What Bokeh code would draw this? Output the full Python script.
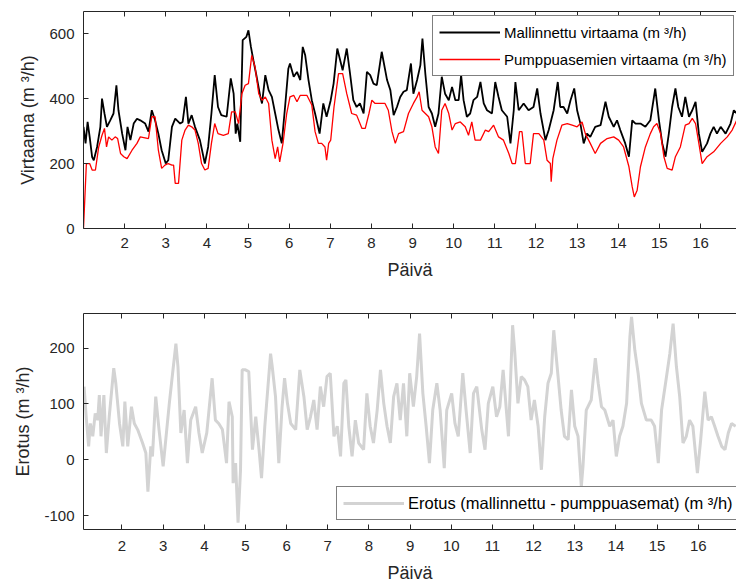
from bokeh.plotting import figure
from bokeh.layouts import column
from bokeh.models import Range1d, LinearAxis, FixedTicker, Legend, LegendItem
from bokeh.embed import file_html
from bokeh.resources import INLINE

# ---------------- data ----------------
day_ticks = [2, 3, 4, 5, 6, 7, 8, 9, 10, 11, 12, 13, 14, 15, 16]
flow_ticks = [0, 200, 400, 600]
diff_ticks = [-100, 0, 100, 200]

model_day = [1.00,1.05,1.10,1.15,1.21,1.25,1.33,1.41,1.45,1.51,
             1.57,1.65,1.73,1.80,1.85,1.94,2.02,2.07,2.14,2.22,
             2.30,2.38,2.50,2.58,2.66,2.74,2.82,2.90,3.00,3.06,
             3.15,3.23,3.35,3.41,3.49,3.55,3.63,3.71,3.83,3.95,
             4.03,4.11,4.19,4.27,4.35,4.48,4.58,4.65,4.70,4.74,
             4.81,4.87,4.96,5.01,5.07,5.13,5.21,5.30,5.34,5.42,
             5.50,5.58,5.66,5.74,5.82,5.90,5.98,6.02,6.11,6.19,
             6.27,6.33,6.39,6.47,6.55,6.63,6.74,6.83,6.91,7.01,
             7.08,7.17,7.24,7.30,7.40,7.48,7.56,7.64,7.72,7.81,
             7.89,7.97,8.05,8.13,8.25,8.38,8.46,8.54,8.62,8.70,
             8.78,8.86,8.96,9.02,9.11,9.19,9.24,9.31,9.39,9.47,
             9.55,9.63,9.71,9.79,9.88,9.96,10.04,10.12,10.18,10.24,
             10.32,10.40,10.48,10.57,10.65,10.73,10.81,10.93,11.01,11.09,
             11.17,11.30,11.38,11.46,11.50,11.58,11.70,11.82,11.94,12.03,
             12.11,12.23,12.31,12.43,12.53,12.59,12.67,12.76,12.84,12.93,
             13.00,13.08,13.16,13.24,13.32,13.44,13.57,13.69,13.77,13.89,
             13.97,14.05,14.17,14.26,14.34,14.42,14.54,14.66,14.78,14.90,
             14.99,15.07,15.15,15.23,15.31,15.39,15.46,15.55,15.63,15.72,
             15.80,15.88,15.96,16.04,16.16,16.24,16.32,16.40,16.49,16.61,
             16.73,16.81,16.88]
model_flow = [313,262,328,282,220,210,251,313,400,354,
              313,333,354,441,364,292,241,313,272,323,
              338,333,323,298,364,333,292,241,200,210,
              313,338,323,328,405,323,349,313,272,200,
              251,354,472,374,349,344,462,415,292,323,
              267,580,590,610,559,518,467,405,385,472,
              426,405,354,303,262,374,492,508,467,482,
              457,559,533,457,395,354,292,385,344,395,
              446,554,518,487,554,477,395,374,385,354,
              482,472,446,441,544,457,426,349,374,405,
              421,426,508,415,457,503,585,477,374,354,
              313,354,467,415,395,436,395,395,472,395,
              344,354,395,405,451,385,364,354,451,405,
              364,344,262,364,451,364,385,364,374,431,
              354,272,303,364,451,374,374,354,395,431,
              364,323,262,292,282,313,318,390,344,313,
              333,303,262,221,333,323,323,313,333,431,
              333,262,221,292,374,431,374,344,405,344,
              364,390,292,236,262,292,313,292,313,292,
              323,364,354]

pump_day = [1.00,1.07,1.15,1.21,1.29,1.37,1.45,1.51,1.56,1.61,
            1.69,1.77,1.83,1.90,1.98,2.06,2.18,2.30,2.38,2.58,
            2.66,2.74,2.82,2.90,2.98,3.06,3.15,3.19,3.23,3.31,
            3.39,3.47,3.55,3.63,3.71,3.79,3.87,3.95,4.03,4.11,
            4.19,4.27,4.40,4.52,4.60,4.69,4.77,4.85,4.93,5.01,
            5.09,5.17,5.26,5.34,5.42,5.50,5.58,5.66,5.72,5.77,
            5.85,5.94,6.02,6.11,6.19,6.27,6.43,6.55,6.63,6.71,
            6.79,6.87,6.91,6.96,7.01,7.09,7.20,7.30,7.40,7.52,
            7.64,7.77,7.85,7.94,8.01,8.09,8.33,8.41,8.50,8.58,
            8.66,8.78,8.90,9.02,9.11,9.16,9.23,9.31,9.39,9.47,
            9.55,9.63,9.71,9.79,9.88,9.96,10.04,10.16,10.28,10.36,
            10.44,10.52,10.65,10.77,10.85,10.97,11.09,11.21,11.34,11.42,
            11.50,11.60,11.66,11.74,11.86,11.94,12.07,12.19,12.27,12.35,
            12.37,12.41,12.51,12.63,12.76,12.88,13.00,13.12,13.20,13.32,
            13.44,13.57,13.73,13.89,14.01,14.13,14.26,14.34,14.39,14.46,
            14.54,14.66,14.78,14.86,14.94,15.03,15.11,15.19,15.31,15.39,
            15.51,15.63,15.72,15.80,15.88,15.96,16.04,16.16,16.32,16.49,
            16.65,16.77,16.88]
pump_flow = [0,200,200,180,180,251,287,308,251,282,
             272,282,277,231,221,215,241,262,282,277,
             344,344,241,185,195,200,195,195,139,139,
             272,303,318,313,303,262,200,180,185,262,
             323,292,287,292,359,359,323,415,441,446,
             533,497,415,395,405,385,272,215,251,205,
             262,354,405,410,390,410,410,380,298,262,
             262,251,210,262,272,374,477,477,415,354,
             349,308,308,354,395,385,385,364,298,262,
             292,298,354,385,405,421,364,354,344,313,
             251,231,364,385,354,303,323,328,313,287,
             328,272,272,303,298,318,282,272,231,200,
             200,298,298,200,200,292,292,272,210,200,
             144,215,272,318,323,318,313,328,292,262,
             231,262,277,282,272,251,190,128,97,118,
             190,251,292,313,323,292,221,185,180,221,
             251,318,323,339,323,262,200,221,236,262,
             282,303,333]

diff_day = [1.08,1.13,1.19,1.23,1.29,1.35,1.41,1.45,1.49,1.56,
            1.62,1.69,1.80,1.85,1.94,2.02,2.07,2.14,2.23,2.30,
            2.38,2.50,2.58,2.63,2.70,2.74,2.82,2.90,3.00,3.08,
            3.15,3.23,3.31,3.36,3.43,3.51,3.59,3.67,3.79,3.87,
            3.95,4.06,4.19,4.27,4.35,4.44,4.54,4.60,4.68,4.70,
            4.76,4.82,4.88,4.92,5.00,5.08,5.17,5.25,5.33,5.39,
            5.47,5.61,5.65,5.73,5.81,5.89,5.95,6.02,6.10,6.22,
            6.32,6.42,6.50,6.58,6.66,6.74,6.82,6.90,6.98,7.06,
            7.15,7.23,7.31,7.39,7.44,7.51,7.59,7.67,7.75,7.87,
            7.95,8.03,8.11,8.20,8.28,8.36,8.44,8.52,8.60,8.68,
            8.76,8.84,8.92,8.99,9.08,9.16,9.23,9.31,9.39,9.47,
            9.55,9.65,9.73,9.83,9.89,10.01,10.09,10.17,10.28,10.36,
            10.46,10.54,10.62,10.74,10.82,10.90,11.01,11.10,11.18,11.26,
            11.39,11.49,11.54,11.62,11.70,11.78,11.86,11.94,12.02,12.11,
            12.19,12.27,12.35,12.43,12.49,12.58,12.67,12.75,12.84,12.92,
            13.00,13.08,13.16,13.20,13.28,13.40,13.50,13.57,13.65,13.73,
            13.85,13.93,14.01,14.09,14.17,14.26,14.34,14.38,14.46,14.54,
            14.62,14.74,14.86,14.94,15.03,15.11,15.23,15.31,15.39,15.47,
            15.55,15.63,15.71,15.79,15.87,15.98,16.06,16.16,16.24,16.32,
            16.40,16.48,16.57,16.65,16.73,16.81,16.91]
diff_val = [131,77,24,65,42,83,71,116,42,116,
            12,77,164,137,65,24,104,24,95,65,
            54,30,12,-57,24,6,113,54,-12,48,
            101,155,208,167,48,89,-6,71,95,48,
            12,48,146,71,65,54,-6,104,77,-42,
            -6,-113,-18,161,161,158,18,77,18,-33,
            60,190,167,113,-6,95,146,101,65,54,
            161,113,54,77,107,54,131,95,149,155,
            42,60,6,137,143,60,6,71,30,18,
            119,60,30,89,161,101,60,30,113,137,
            71,137,42,155,95,149,226,119,60,-6,
            89,137,89,-15,89,119,65,42,155,89,
            12,119,131,54,18,101,131,77,95,161,
            42,241,196,101,149,143,131,71,107,60,
            -18,77,137,155,232,161,89,42,36,125,
            60,42,-48,-12,89,107,182,137,95,89,
            60,71,6,42,60,101,220,256,196,155,
            101,71,71,60,-6,89,149,190,244,167,
            113,30,42,71,60,-24,36,122,71,77,
            60,42,24,18,48,65,60]

# ---------------- styling helpers ----------------
FONT = "Liberation Sans"
AXC = "#262626"


def style_axis(ax, ticks, label=True, tick_standoff=9, label_standoff=10):
    ax.ticker = FixedTicker(ticks=ticks)
    ax.axis_line_color = AXC
    ax.major_tick_line_color = AXC
    ax.major_tick_in = 5
    ax.major_tick_out = 0
    ax.minor_tick_line_color = None
    ax.major_label_text_font = FONT
    ax.major_label_text_color = AXC if label else None
    ax.major_label_text_font_size = "15px" if label else "1px"
    ax.major_label_standoff = tick_standoff if label else 0
    ax.major_label_overrides = {t: str(t) for t in ticks}
    ax.axis_label_text_font = FONT
    ax.axis_label_text_font_size = "18px"
    ax.axis_label_text_font_style = "normal"
    ax.axis_label_text_color = AXC
    ax.axis_label_standoff = label_standoff


def make_fig(xr, yr, height, top, bottom, ylabel, yticks, xstand, xlab):
    p = figure(width=736, height=height, x_range=Range1d(*xr), y_range=Range1d(*yr),
               output_backend="svg", toolbar_location=None,
               min_border_left=83, min_border_right=0,
               min_border_top=top, min_border_bottom=bottom,
               x_axis_label="Päivä", y_axis_label=ylabel)
    p.xgrid.visible = False
    p.ygrid.visible = False
    p.outline_line_color = None
    p.background_fill_color = "white"
    p.border_fill_color = "white"
    style_axis(p.xaxis[0], day_ticks, tick_standoff=xstand, label_standoff=xlab)
    style_axis(p.yaxis[0], yticks, tick_standoff=9, label_standoff=8)
    top_ax = LinearAxis()
    style_axis(top_ax, day_ticks, label=False)
    p.add_layout(top_ax, "above")
    return p


def make_legend(items, loc, size):
    return Legend(items=items, location=loc, label_text_font=FONT,
                  label_text_font_size=size, label_text_color="#000000",
                  glyph_width=61, glyph_height=20, label_height=20,
                  label_standoff=4, padding=6, spacing=7, margin=0,
                  border_line_color="#000000", border_line_width=1,
                  background_fill_color="white", background_fill_alpha=1.0)


# ---------------- top plot ----------------
p1 = make_fig((1.0, 16.875), (0, 668), 290, 11, 62, "Virtaama (m ³/h)", flow_ticks, 9, 9)
r_model = p1.line(model_day, model_flow, line_color="#000000", line_width=1.8)
r_pump = p1.line(pump_day, pump_flow, line_color="#ff0000", line_width=1.3)
p1.add_layout(make_legend([
    LegendItem(label="Mallinnettu virtaama (m ³/h)", renderers=[r_model]),
    LegendItem(label="Pumppuasemien virtaama (m ³/h)", renderers=[r_pump]),
], (349, 152), "15px"))

# ---------------- bottom plot ----------------
p2 = make_fig((1.065, 16.93), (-125, 262), 295, 23, 55, "Erotus (m ³/h)", diff_ticks, 11, 9)
r_diff = p2.line(diff_day, diff_val, line_color="#d3d3d3", line_width=3)
p2.add_layout(make_legend([
    LegendItem(label="Erotus (mallinnettu - pumppuasemat) (m ³/h)", renderers=[r_diff]),
], (253, 9), "16.5px"))

layout = column(p1, p2, spacing=0)
open("out.html", "w").write(file_html(layout, INLINE))
